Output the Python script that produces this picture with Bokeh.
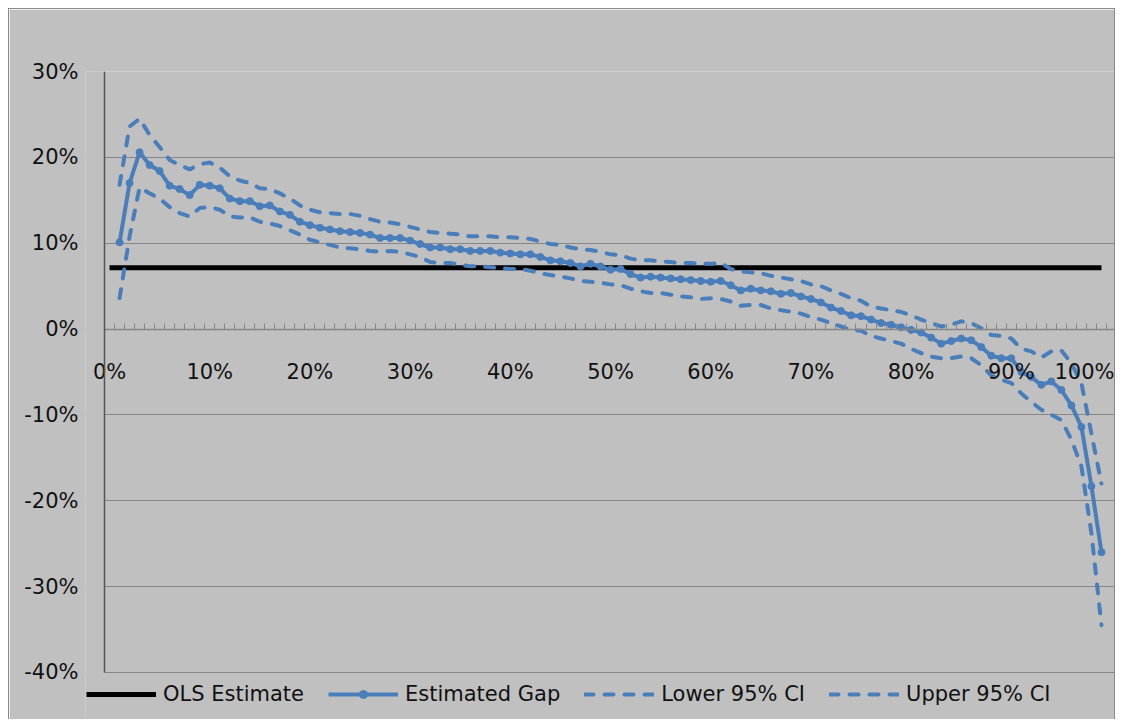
from bokeh.plotting import figure
from bokeh.models import (Range1d, LinearAxis, FixedTicker, NumeralTickFormatter,
                          CustomJSTickFormatter, Legend, LegendItem, BoxAnnotation)
from bokeh.embed import file_html
from bokeh.resources import INLINE

# ---------------- data ----------------
percentiles = list(range(1, 100))

estimated_gap = [
    0.101, 0.170, 0.206, 0.191, 0.184, 0.167, 0.163, 0.156, 0.168, 0.167,
    0.164, 0.152, 0.149, 0.149, 0.143, 0.144, 0.137, 0.133, 0.125, 0.121,
    0.118, 0.116, 0.114, 0.113, 0.112, 0.110, 0.106, 0.106, 0.106, 0.103,
    0.099, 0.095, 0.095, 0.093, 0.093, 0.091, 0.091, 0.091, 0.089, 0.088,
    0.087, 0.087, 0.084, 0.080, 0.079, 0.077, 0.073, 0.076, 0.073, 0.069,
    0.070, 0.064, 0.060, 0.061, 0.060, 0.059, 0.058, 0.057, 0.056, 0.055,
    0.056, 0.051, 0.045, 0.047, 0.045, 0.044, 0.041, 0.042, 0.038, 0.035,
    0.031, 0.025, 0.021, 0.016, 0.015, 0.011, 0.007, 0.005, 0.002, -0.001,
    -0.004, -0.010, -0.017, -0.014, -0.011, -0.013, -0.021, -0.031, -0.034, -0.034,
    -0.050, -0.056, -0.065, -0.061, -0.071, -0.089, -0.114, -0.183, -0.260,
]

upper_ci = [
    0.168, 0.236, 0.245, 0.226, 0.212, 0.197, 0.191, 0.186, 0.192, 0.194,
    0.188, 0.178, 0.173, 0.170, 0.164, 0.163, 0.158, 0.152, 0.144, 0.139,
    0.136, 0.135, 0.134, 0.134, 0.132, 0.128, 0.125, 0.124, 0.122, 0.119,
    0.116, 0.113, 0.112, 0.111, 0.110, 0.108, 0.108, 0.108, 0.107, 0.107,
    0.106, 0.105, 0.102, 0.099, 0.098, 0.095, 0.093, 0.092, 0.090, 0.087,
    0.086, 0.082, 0.080, 0.080, 0.079, 0.078, 0.077, 0.077, 0.076, 0.076,
    0.077, 0.070, 0.067, 0.066, 0.065, 0.062, 0.060, 0.058, 0.056, 0.052,
    0.050, 0.045, 0.041, 0.036, 0.033, 0.026, 0.024, 0.022, 0.020, 0.016,
    0.011, 0.007, 0.003, 0.005, 0.009, 0.007, 0.001, -0.007, -0.008, -0.011,
    -0.023, -0.026, -0.033, -0.026, -0.025, -0.040, -0.063, -0.122, -0.180,
]

lower_ci = [
    0.036, 0.108, 0.165, 0.158, 0.152, 0.142, 0.135, 0.131, 0.141, 0.142,
    0.139, 0.131, 0.130, 0.130, 0.125, 0.123, 0.120, 0.115, 0.110, 0.104,
    0.101, 0.098, 0.095, 0.094, 0.093, 0.091, 0.090, 0.091, 0.090, 0.087,
    0.084, 0.078, 0.077, 0.077, 0.075, 0.073, 0.073, 0.072, 0.071, 0.070,
    0.070, 0.068, 0.065, 0.063, 0.061, 0.059, 0.056, 0.055, 0.054, 0.052,
    0.051, 0.047, 0.044, 0.042, 0.042, 0.040, 0.038, 0.037, 0.035, 0.036,
    0.035, 0.032, 0.027, 0.028, 0.028, 0.024, 0.022, 0.020, 0.018, 0.014,
    0.011, 0.007, 0.003, -0.001, -0.002, -0.008, -0.011, -0.014, -0.017, -0.023,
    -0.028, -0.032, -0.034, -0.034, -0.032, -0.034, -0.042, -0.054, -0.059, -0.063,
    -0.075, -0.085, -0.094, -0.100, -0.106, -0.129, -0.160, -0.238, -0.345,
]

ols_x = list(range(0, 100))
ols_value = 0.0714
ols_estimate = [ols_value] * len(ols_x)

x_tick_labels = [0, 10, 20, 30, 40, 50, 60, 70, 80, 90, 100]
x_category_edges = [k - 0.5 for k in range(0, 102)]
y_ticks = [-0.4, -0.3, -0.2, -0.1, 0.0, 0.1, 0.2, 0.3]

# ---------------- style ----------------
BG = "#c0c0c0"
BLUE = "#4a7ebb"
GRID = "#868686"
FONT = "DejaVu Sans"
FONT_SIZE = "21px"
X_AXIS_START = -0.5      # left edge of the first category (y axis position)
X_VIEW_START = -2.4      # a little room so the "0%" label is not clipped
Y_MIN, Y_MAX = -0.4, 0.3
Y_VIEW_START = -0.456    # room below the axis for the legend

p = figure(
    width=1107, height=711,
    output_backend="svg", toolbar_location=None,
    x_range=Range1d(X_VIEW_START, 100.5), y_range=Range1d(Y_VIEW_START, Y_MAX),
    x_axis_type=None,
    min_border_left=76, min_border_right=0, min_border_top=62, min_border_bottom=0,
    background_fill_color=BG, border_fill_color=BG,
)
p.outline_line_color = None
p.styles = {"margin-left": "8px", "margin-top": "8px",
            "border-left": "1px solid #8a8a8a", "border-top": "1px solid #8a8a8a",
            "border-right": "1px solid #8a8a8a"}

# y axis labels (regular left axis, no line)
yax = p.yaxis[0]
yax.ticker = FixedTicker(ticks=y_ticks)
yax.formatter = NumeralTickFormatter(format="0%")
yax.major_tick_in = 0
yax.major_tick_out = 0
yax.minor_tick_in = 0
yax.minor_tick_out = 0
yax.axis_line_color = None
yax.major_label_standoff = 7
yax.major_label_text_font = FONT
yax.major_label_text_font_size = FONT_SIZE
yax.major_label_text_color = "#111111"

# y axis rule at the left edge of the first category
yrule = LinearAxis(fixed_location=X_AXIS_START, ticker=FixedTicker(ticks=[]))
yrule.bounds = (Y_MIN, Y_MAX)
yrule.axis_line_color = "#555555"
yrule.axis_line_width = 1.5
yrule.major_tick_in = 0
yrule.major_tick_out = 0
yrule.minor_tick_in = 0
yrule.minor_tick_out = 0
p.add_layout(yrule, "left")

p.ygrid.ticker = FixedTicker(ticks=y_ticks)
p.ygrid.grid_line_color = GRID
p.ygrid.grid_line_width = 1
p.xgrid.visible = False

# hide grid lines left of the y axis rule
p.add_layout(BoxAnnotation(right=X_AXIS_START, fill_color=BG, fill_alpha=1.0,
                           line_alpha=0, level="underlay"))

# x axis at y = 0
xax = LinearAxis(fixed_location=0)
xax.bounds = (X_AXIS_START, 100.5)
xax.ticker = FixedTicker(ticks=x_tick_labels, minor_ticks=x_category_edges)
xax.formatter = CustomJSTickFormatter(code="return tick.toFixed(0) + '%';")
xax.axis_line_color = GRID
xax.axis_line_width = 1.5
xax.major_tick_in = 0
xax.major_tick_out = 0
xax.minor_tick_in = 6
xax.minor_tick_out = 0
xax.minor_tick_line_color = GRID
xax.major_label_standoff = 31
xax.major_label_text_font = FONT
xax.major_label_text_font_size = FONT_SIZE
xax.major_label_text_color = "#111111"
p.add_layout(xax, "below")

# series
r_ols = p.line(ols_x, ols_estimate, line_color="black", line_width=5)
r_up = p.line(percentiles, upper_ci, line_color=BLUE, line_width=4,
              line_dash="9 11", line_cap="round")
r_lo = p.line(percentiles, lower_ci, line_color=BLUE, line_width=4,
              line_dash="9 11", line_cap="round")
r_gap = p.line(percentiles, estimated_gap, line_color=BLUE, line_width=4,
               line_join="round")
r_pts = p.scatter(percentiles, estimated_gap, size=7, marker="circle",
                  fill_color=BLUE, line_color=BLUE)

legend = Legend(
    items=[
        LegendItem(label="OLS Estimate", renderers=[r_ols]),
        LegendItem(label="Estimated Gap", renderers=[r_gap, r_pts]),
        LegendItem(label="Lower 95% CI", renderers=[r_lo]),
        LegendItem(label="Upper 95% CI", renderers=[r_up]),
    ],
    orientation="horizontal",
    location=(1, 14),
    glyph_width=70, glyph_height=20,
    label_standoff=7, spacing=24, padding=0, margin=0,
    background_fill_alpha=0, border_line_alpha=0,
    label_text_font=FONT, label_text_font_size=FONT_SIZE, label_text_color="#111111",
)
p.add_layout(legend, "center")

open("out.html", "w").write(file_html(p, INLINE))
